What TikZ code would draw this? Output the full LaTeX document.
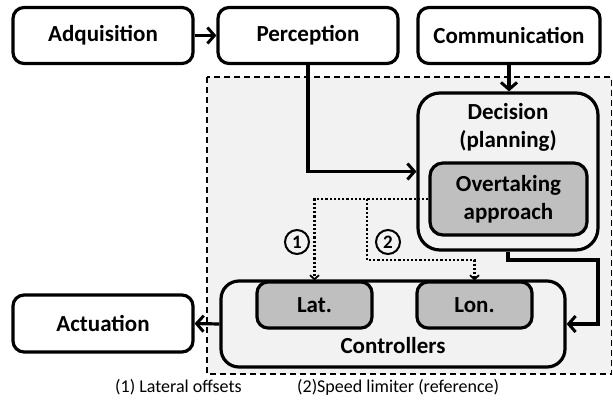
\documentclass[tikz,border=0pt]{standalone}
\usepackage{fontspec}
\setmainfont{Carlito}
\usetikzlibrary{arrows.meta,calc}
\definecolor{lightfill}{HTML}{F2F2F2}
\definecolor{midfill}{HTML}{BFBFBF}
\begin{document}
\begin{tikzpicture}[x=1pt,y=-1pt,
  box/.style={draw,line width=3.2pt,rounded corners=11pt,align=center,
    font=\fontsize{23}{28}\selectfont\bfseries,inner sep=0pt},
  lbl/.style={align=center,font=\fontsize{23}{28}\selectfont\bfseries,inner sep=0pt},
  conn/.style={line width=3.2pt,-{Straight Barb[length=7pt,width=16pt,line width=3pt]}},
  dots/.style={line width=2.2pt,dash pattern=on 2.2pt off 2pt,-{Straight Barb[length=4pt,width=9pt,line width=1.8pt]}},
  circ/.style={draw,circle,line width=2pt,minimum size=24pt,inner sep=0pt,
    font=\fontsize{19}{19}\selectfont\bfseries},
  note/.style={font=\fontsize{18}{20}\selectfont,anchor=west,inner sep=0pt}
]
\fill[white] (0,0) rectangle (613,402);
\useasboundingbox (0,0) rectangle (613,402);
\draw[line width=1.8pt,fill=lightfill,dash pattern=on 6pt off 4pt] (207,77) rectangle (611.5,374);

\node[box,fill=white,minimum width=180pt,minimum height=56pt] (adq) at (103,35.5) {Adquisition};
\node[box,fill=white,minimum width=180pt,minimum height=56pt] (per) at (308,35.5) {Perception};
\node[box,fill=white,minimum width=182pt,minimum height=56pt] (com) at (509,35.5) {Communication};

\node[box,fill=lightfill,minimum width=180pt,minimum height=157pt,rounded corners=22pt] (dec) at (508,171.5) {};
\node[lbl] (dectext) at (508,127) {Decision\\(planning)};
\node[box,fill=midfill,minimum width=157pt,minimum height=72pt,rounded corners=13pt] (ovt) at (508.5,199) {Overtaking\\approach};

\node[box,fill=lightfill,minimum width=344pt,minimum height=86pt,rounded corners=18pt] (ctrl) at (393,324) {};
\node[lbl] (ctrltext) at (393,346) {Controllers};
\node[box,fill=midfill,minimum width=115pt,minimum height=46pt,rounded corners=11pt] (lat) at (314.5,305) {Lat.};
\node[box,fill=midfill,minimum width=115pt,minimum height=46pt,rounded corners=11pt] (lon) at (474.5,305) {Lon.};

\node[box,fill=white,minimum width=180pt,minimum height=57pt] (act) at (103,323.5) {Actuation};

\draw[conn] (adq) -- (per);
\draw[conn] (per.south) |- (dec.west);
\draw[conn] (com.south) -- (com.south |- dec.north);
\coordinate (r1) at (598,260);
\draw[conn] (dec.south) |- (r1) |- (ctrl.east);
\draw[conn] (ctrl.west) -- (act.east);

\coordinate (br) at (367,199);
\coordinate (br2) at (367,260);
\draw[dots] (ovt.west) -| (lat.north);
\draw[dots] (br) -- (br2) -| (lon.north);

\node[circ] (c1) at (297,242) {1};
\node[circ] (c2) at (388,242) {2};

\node[note] (n1) at (115,387) {(1) Lateral offsets};
\node[note] (n2) at (297,387) {(2)Speed limiter (reference)};
\end{tikzpicture}
\end{document}
